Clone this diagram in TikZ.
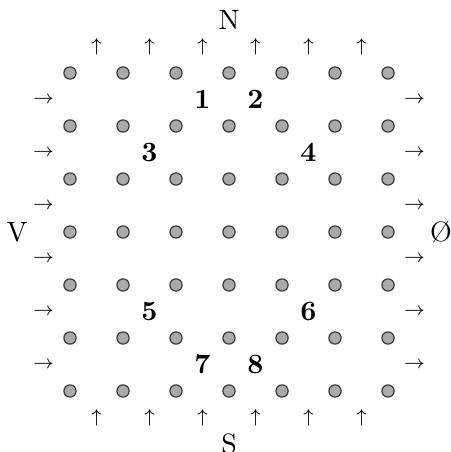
\documentclass[tikz,border=0pt]{standalone}
\usepackage{amsmath,amssymb}
\usepackage[dvipsnames]{xcolor}
\usetikzlibrary{positioning}
\definecolor{SiteGray}{HTML}{AAAAAA}
\definecolor{SiteEdge}{HTML}{3A3A3A}

\begin{document}
\begin{tikzpicture}[
  x=0.7cm,y=0.7cm,
  site/.style={circle,draw=SiteEdge,fill=SiteGray,line width=0.45pt,
    minimum size=4.6pt,inner sep=0pt},
  flow/.style={inner sep=0pt,font=\scriptsize},
  side/.style={inner sep=0pt,font=\fontsize{10.5}{12}\selectfont},
  cell/.style={inner sep=0pt,font=\fontsize{10.5}{12}\selectfont\bfseries}
]
\useasboundingbox (-1.321,1.377) rectangle (7.17,-7.151);
% lattice sites
\foreach \i in {0,...,6}
  \foreach \j in {0,...,6}
    \node[site] (p-\i-\j) at (\i,-\j) {};
% flux arrows through the top and bottom rows
\foreach \i in {0,...,5} {
  \node[flow] (up-\i) at (\i+0.5,0.5) {$\uparrow$};
  \node[flow] (dn-\i) at (\i+0.5,-6.5) {$\uparrow$};
}
% flux arrows through the left and right columns
\foreach \j in {0,...,5} {
  \node[flow] (lt-\j) at (-0.5,-\j-0.5) {$\rightarrow$};
  \node[flow] (rt-\j) at (6.5,-\j-0.5) {$\rightarrow$};
}
% sides
\node[side] at (3,1) (n) {N};
\node[side] at (3,-7) (s) {S};
\node[side] at (-1,-3) (v) {V};
\node[side] at (7,-3) (o) {\O};
% plaquettes
\node[cell] (c1) at (2.5,-0.5) {1};
\node[cell] (c2) at (3.5,-0.5) {2};
\node[cell] (c3) at (1.5,-1.5) {3};
\node[cell] (c4) at (4.5,-1.5) {4};
\node[cell] (c5) at (1.5,-4.5) {5};
\node[cell] (c6) at (4.5,-4.5) {6};
\node[cell] (c7) at (2.5,-5.5) {7};
\node[cell] (c8) at (3.5,-5.5) {8};
\end{tikzpicture}
\end{document}
